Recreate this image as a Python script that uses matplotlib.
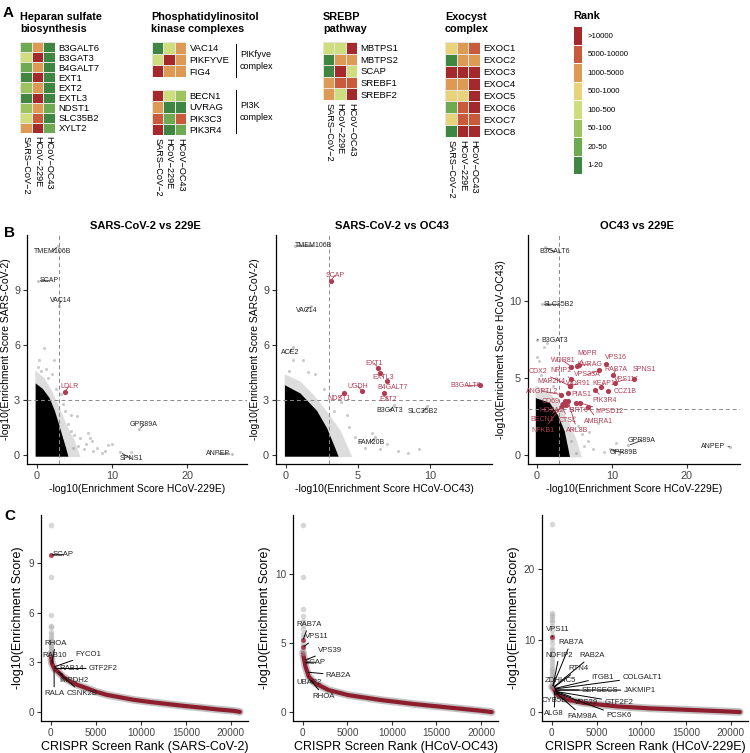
"""Multi-panel CRISPR screen comparison figure (heatmaps, pairwise scatter, rank curves)."""
import matplotlib
import numpy as np

matplotlib.use("Agg")
from matplotlib import pyplot as plt
from matplotlib.colors import BoundaryNorm, ListedColormap
from matplotlib.lines import Line2D

plt.rcParams["font.family"] = ["Liberation Sans", "DejaVu Sans"]

W, H = 750, 753

# ---------------- panel A data (rank bin codes: 0 = 1-20 ... 7 = >10000) ----------------
rank_bins = ["1-20", "20-50", "50-100", "100-500", "500-1000", "1000-5000", "5000-10000", ">10000"]
rank_colors = ["#3f8642", "#6eaa52", "#9dc35f", "#cedd7e", "#e8d37a", "#dc9a55", "#c95b3c", "#a4292c"]
viruses = ["SARS\u2212CoV\u22122", "HCoV\u2212229E", "HCoV\u2212OC43"]

heparan_genes = ["B3GALT6", "B3GAT3", "B4GALT7", "EXT1", "EXT2", "EXTL3", "NDST1", "SLC35B2", "XYLT2"]
heparan_codes = [[1, 5, 0], [3, 7, 0], [1, 5, 0], [0, 7, 0], [2, 5, 0],
                 [0, 7, 0], [2, 5, 1], [3, 6, 0], [5, 7, 1]]
pikfyve_genes = ["VAC14", "PIKFYVE", "FIG4"]
pikfyve_codes = [[0, 3, 5], [3, 7, 5], [7, 5, 5]]
pi3k_genes = ["BECN1", "UVRAG", "PIK3C3", "PIK3R4"]
pi3k_codes = [[7, 3, 2], [5, 0, 0], [6, 1, 6], [7, 0, 1]]
srebp_genes = ["MBTPS1", "MBTPS2", "SCAP", "SREBF1", "SREBF2"]
srebp_codes = [[3, 3, 7], [0, 5, 5], [0, 7, 3], [5, 6, 6], [5, 3, 7]]
exocyst_genes = ["EXOC1", "EXOC2", "EXOC3", "EXOC4", "EXOC5", "EXOC6", "EXOC7", "EXOC8"]
exocyst_codes = [[4, 5, 6], [0, 5, 5], [7, 7, 7], [5, 5, 7], [4, 4, 7],
                 [1, 6, 7], [4, 6, 6], [0, 7, 7]]

# ---------------- panel B data ----------------
# dense cloud of non-hit genes, outlined (core = solid black, halo = grey fringe)
b1_core_x = [-0.15, -0.15, 0.8, 1.7, 2.4, 3.0, 3.5, 3.9, 4.2, -0.15]
b1_core_y = [-0.1, 3.9, 3.6, 3.1, 2.4, 1.6, 0.9, 0.35, -0.1, -0.1]
b1_halo_x = [-0.2, -0.2, 1.0, 2.0, 3.0, 4.0, 5.0, 5.8, -0.2]
b1_halo_y = [-0.12, 4.6, 4.2, 3.5, 2.6, 1.6, 0.8, -0.12, -0.12]
b1_pts_x = [1.0, 0.35, 2.3, 2.0, 1.5, 0.5, 0.1, 3.5, 4.2, 4.5, 5.0, 5.3, 5.5, 6.2, 6.8, 7.0, 7.5, 8.0,
            9.0, 9.5, 10.0, 12.5, 4.8, 3.8, 4.6, 5.8, 6.5, 3.2, 2.6, 1.2, 8.6, 7.3]
b1_pts_y = [5.85, 5.2, 5.15, 4.4, 4.2, 4.6, 4.8, 2.8, 1.7, 2.2, 1.1, 2.1, 0.5, 0.3, 1.2, 0.9, 0.2, 0.4,
            0.2, 0.55, 0.6, 0.15, 0.35, 2.4, 1.3, 0.9, 0.6, 3.3, 3.6, 4.7, 0.1, 0.75]
b1_names = ["TMEM106B", "SCAP", "VAC14", "LDLR", "GPR89A", "SPNS1", "ANPEP"]
b1_x = [2.8, 0.2, 2.9, 3.7, 13.6, 11.1, 25.9]
b1_y = [11.4, 9.5, 8.15, 3.45, 1.4, 0.13, 0.05]
b1_lab_x = [2.1, 1.6, 3.2, 4.3, 14.2, 12.5, 24.1]
b1_lab_y = [11.1, 9.5, 8.4, 3.75, 1.64, -0.2, 0.05]
b1_hit = [False, False, False, True, False, False, False]

b2_core_x = [-0.08, -0.08, 1.0, 2.15, 2.85, 3.4, 3.65, -0.08]
b2_core_y = [-0.1, 3.8, 3.35, 2.4, 1.45, 0.4, -0.1, -0.1]
b2_halo_x = [-0.1, -0.1, 1.0, 2.0, 3.0, 3.8, 4.6, -0.1]
b2_halo_y = [-0.12, 4.4, 4.0, 3.2, 2.2, 1.3, -0.12, -0.12]
b2_pts_x = [0.45, 1.2, 2.0, 3.8, 4.2, 4.8, 5.5, 6.0, 6.5, 7.0, 7.8, 8.5, 9.2, 1.5, 2.6, 3.3, 4.4, 5.1, 0.2]
b2_pts_y = [5.2, 5.2, 4.4, 2.9, 2.2, 1.0, 0.4, 1.2, 0.3, 0.6, 0.2, 0.1, 0.3, 4.5, 3.6, 2.4, 1.5, 0.7, 4.6]
b2_names = ["TMEM106B", "SCAP", "VAC14", "ACE2", "EXT1", "EXTL3", "B4GALT7", "UGDH",
            "NDST1", "EXT2", "B3GALT6", "B3GAT3", "SLC35B2", "FAM20B"]
b2_x = [0.6, 3.1, 1.7, 0.45, 6.4, 6.5, 7.0, 5.3, 4.04, 6.8, 13.5, 7.5, 9.8, 6.2]
b2_y = [11.4, 9.5, 8.15, 5.87, 4.76, 4.44, 4.04, 3.49, 3.4, 3.35, 3.82, 2.7, 2.65, 0.96]
b2_lab_x = [1.9, 3.4, 1.4, 0.25, 6.1, 6.77, 7.4, 4.97, 3.67, 7.1, 12.5, 7.2, 9.5, 5.9]
b2_lab_y = [11.4, 9.8, 7.87, 5.6, 5.0, 4.22, 3.69, 3.73, 3.09, 3.02, 3.76, 2.42, 2.36, 0.69]
b2_hit = [False, True, False, False, True, True, True, True, True, True, True, False, False, False]

b3_core_x = [-0.15, -0.15, 1.7, 2.8, 3.7, 4.15, 4.4, -0.15]
b3_core_y = [-0.12, 3.7, 3.4, 2.6, 1.55, 0.5, -0.12, -0.12]
b3_halo_x = [-0.2, -0.2, 1.5, 3.0, 4.2, 5.2, 6.0, -0.2]
b3_halo_y = [-0.15, 4.5, 4.2, 3.3, 2.2, 1.1, -0.15, -0.15]
b3_pts_x = [0.0, 0.3, 1.0, 1.3, 1.8, 2.5, 5.0, 5.5, 6.0, 6.8, 7.5, 8.2, 9.0, 10.5, 11.0, 4.5, 5.2,
            0.6, 2.2, 3.4, 4.8, 6.3, 7.0]
b3_pts_y = [6.4, 6.1, 7.0, 7.3, 4.8, 5.0, 2.5, 1.9, 1.4, 0.9, 0.4, 2.1, 0.2, 0.8, 0.1, 0.9, 0.15,
            5.2, 4.5, 2.9, 1.7, 0.6, 1.5]
b3_names = ["B3GALT6", "SLC35B2", "B3GAT3", "GPR89A", "GPR89B", "ANPEP",
            "M6PR", "WDR81", "UVRAG", "VPS16", "RAB7A", "SPNS1", "VPS33A", "VPS11",
            "KEAP1", "WDR91", "CCZ1B", "PIK3R4", "CDX2", "NRIP1", "MAP2K4", "ANGPTL2",
            "PIAS1", "CD69", "MFSD12", "SIRT6", "HOXA1", "AMBRA1", "BECN1", "CTSL",
            "NFKB1", "ARL8B"]
b3_x = [1.1, 0.7, 0.05, 12.2, 9.7, 25.7,
        5.4, 4.6, 5.6, 9.2, 10.2, 13.0, 8.26, 10.4,
        8.5, 4.46, 9.5, 7.8, 4.4, 4.5, 4.46, 3.17,
        4.15, 3.48, 5.76, 5.2, 3.7, 6.83, 3.93, 3.35,
        3.5, 4.15]
b3_y = [13.5, 9.8, 7.5, 0.63, 0.37, 0.54,
        5.8, 5.75, 5.85, 5.94, 5.18, 4.97, 5.51, 4.71,
        4.4, 4.51, 4.19, 4.21, 4.5, 4.95, 4.51, 3.93,
        4.04, 3.33, 3.39, 3.39, 3.5, 3.11, 3.28, 3.17,
        3.3, 3.5]
b3_lab_x = [2.4, 2.9, 2.3, 14.0, 11.5, 23.5,
            6.7, 3.48, 7.05, 10.6, 10.5, 14.3, 6.7, 11.7,
            8.9, 5.5, 11.7, 9.06, 0.18, 3.17, 1.9, 0.7,
            5.85, 1.83, 9.7, 5.5, 1.9, 8.2, 0.7, 4.15,
            0.8, 5.36]
b3_lab_y = [13.2, 9.8, 7.45, 0.95, 0.15, 0.54,
            6.59, 6.13, 5.87, 6.37, 5.55, 5.53, 5.23, 4.9,
            4.62, 4.62, 4.15, 3.54, 5.44, 5.49, 4.8, 4.15,
            3.95, 3.5, 2.8, 2.9, 2.9, 2.2, 2.31, 2.27,
            1.6, 1.6]
b3_hit = [False] * 6 + [True] * 26

# ---------------- panel C data ----------------
c1_top_rank = [1, 2, 3, 4, 5, 6, 7, 8, 9, 10, 11, 12, 13, 14, 15, 16, 17, 18, 19]
c1_top_score = [11.3, 9.5, 8.15, 5.85, 5.2, 5.15, 4.85, 4.7, 4.5, 4.4, 4.3, 4.2, 4.1, 4.0, 3.9, 3.8, 3.7, 3.6, 3.5]
c1_curve_rank = [20, 100, 400, 820, 1400, 2120, 3000, 3990, 5000, 6220, 7500, 9200, 11000,
                 12900, 14500, 16650, 18500, 20370, 21000]
c1_curve_score = [3.5, 2.95, 2.6, 2.4, 2.1, 1.84, 1.62, 1.43, 1.22, 1.03, 0.9, 0.73, 0.6,
                  0.48, 0.38, 0.26, 0.15, 0.06, 0.0]
c1_names = ["SCAP", "RHOA", "RAB10", "FYCO1", "RAB14", "GTF2F2", "IMPDH2", "RALA", "CSNK2B"]
c1_rank = [2, 100, 150, 250, 300, 350, 700, 350, 900]
c1_score = [9.5, 2.95, 2.85, 2.7, 2.65, 2.62, 2.45, 2.6, 2.35]
c1_lab_rank = [1400, 525, 370, 4170, 2310, 5840, 2570, 370, 3430]
c1_lab_score = [9.5, 4.16, 3.41, 3.45, 2.63, 2.63, 1.88, 1.13, 1.13]
c1_hit = [True] + [False] * 8

c2_top_rank = [1, 2, 3, 4, 5, 6, 7, 8, 9, 10, 11, 12, 13, 14, 15]
c2_top_score = [13.6, 9.8, 7.5, 7.0, 6.6, 6.3, 6.0, 5.7, 5.45, 5.2, 5.0, 4.8, 4.7, 4.5, 4.3]
c2_curve_rank = [15, 100, 300, 670, 1400, 2900, 5100, 8800, 12500, 16200, 19900, 21200]
c2_curve_score = [4.3, 4.0, 3.3, 2.56, 2.08, 1.59, 1.23, 0.87, 0.58, 0.34, 0.1, 0.0]
c2_names = ["RAB7A", "VPS11", "VPS39", "SCAP", "RAB2A", "UBAP2", "RHOA"]
c2_rank = [10, 13, 150, 170, 450, 600, 800]
c2_score = [5.2, 4.7, 3.75, 3.6, 2.9, 2.6, 2.4]
c2_lab_rank = [670, 1590, 3070, 1400, 4000, 670, 2330]
c2_lab_score = [6.35, 5.46, 4.47, 3.62, 2.68, 2.13, 1.16]
c2_hit = [True, True, False, False, False, False, False]

c3_top_rank = list(range(1, 30))
c3_top_score = [26.2, 13.8, 13.5, 13.3, 12.9, 12.6, 12.0, 11.5, 10.8, 10.5, 10.2, 9.6, 9.0, 8.6, 8.2,
                7.8, 7.4, 7.0, 6.6, 6.2, 5.9, 5.6, 5.3, 5.0, 4.7, 4.4, 4.1, 3.8, 3.5]
c3_curve_rank = [30, 150, 630, 1740, 3590, 7300, 11000, 14700, 18400, 21000]
c3_curve_score = [3.5, 3.35, 2.4, 1.72, 1.26, 0.79, 0.51, 0.33, 0.14, 0.0]
c3_names = ["VPS11", "RAB7A", "NDFIP2", "RAB2A", "RTN4", "ZDHHC5", "ITGB1", "COLGALT1",
            "SEPSECS", "JAKMIP1", "CYB5B", "VPS29", "GTF2F2", "ALG8", "FAM98A", "PCSK6"]
c3_rank = [10, 60, 100, 120, 150, 170, 200, 220, 240, 260, 280, 300, 320, 350, 380, 400]
c3_score = [10.5, 3.5, 3.45, 3.4, 3.35, 3.3, 3.25, 3.2, 3.1, 3.05, 3.0, 2.95, 2.9, 2.85, 2.8, 2.75]
c3_lab_rank = [700, 2100, 810, 4440, 3030, 1000, 5630, 10070, 5370, 9810, 260, 3780, 7480, 260, 3410, 7480]
c3_lab_score = [11.5, 9.67, 7.95, 7.85, 6.09, 4.46, 4.84, 4.84, 3.07, 3.07, 1.58, 1.4, 1.4, -0.18, -0.56, -0.51]
c3_hit = [True] + [False] * 15

HIT_RED = "#b13c52"
GREY_PT = "#8c8c8c"

fig = plt.figure(figsize=(W / 100, H / 100), dpi=100)


def px_axes(left, top, right, bottom):
    return fig.add_axes([left / W, 1 - bottom / H, (right - left) / W, (bottom - top) / H])


def ftext(x, y, s, **kw):
    fig.text(x / W, 1 - y / H, s, **kw)


rank_cmap = ListedColormap(rank_colors)
rank_norm = BoundaryNorm(np.arange(-0.5, 8.5), 8)


def draw_heatmap(box, genes, codes, show_cols):
    ax = px_axes(*box)
    ax.pcolormesh(np.array(codes), cmap=rank_cmap, norm=rank_norm,
                  edgecolors="#e8e4dc", linewidth=0.7)
    ax.set_xlim(0, 3)
    ax.set_ylim(len(genes), 0)
    ax.yaxis.tick_right()
    ax.set_yticks(np.arange(len(genes)) + 0.5, genes)
    if show_cols:
        ax.set_xticks(np.arange(3) + 0.5, viruses, rotation=270, va="top", ha="center")
    else:
        ax.set_xticks([])
    ax.tick_params(length=0, pad=2.5, labelsize=6.8)
    ax.tick_params(axis="x", labelsize=6.6, pad=2)
    for s in ax.spines.values():
        s.set_visible(False)


# ---------------- panel A ----------------
ftext(3, 13, "A", fontsize=11, fontweight="bold", va="center")
title_kw = dict(fontsize=7.8, fontweight="bold", va="center", linespacing=1.3)
ftext(20, 23, "Heparan sulfate\nbiosynthesis", **title_kw)
ftext(151, 23, "Phosphatidylinositol\nkinase complexes", **title_kw)
ftext(323, 23, "SREBP\npathway", **title_kw)
ftext(445, 23, "Exocyst\ncomplex", **title_kw)

draw_heatmap((20, 42, 55, 133), heparan_genes, heparan_codes, True)
draw_heatmap((152, 42, 186, 77), pikfyve_genes, pikfyve_codes, False)
draw_heatmap((152, 90, 186, 135), pi3k_genes, pi3k_codes, True)
draw_heatmap((323, 42, 357, 100), srebp_genes, srebp_codes, True)
draw_heatmap((445, 42, 480, 137), exocyst_genes, exocyst_codes, True)

for y0, y1, label in [(44, 77, "PIKfyve\ncomplex"), (90, 133, "PI3K\ncomplex")]:
    fig.add_artist(Line2D([236 / W, 236 / W], [1 - y0 / H, 1 - y1 / H], color="black", lw=0.7))
    ftext(240, (y0 + y1) / 2, label, fontsize=6.5, va="center", linespacing=1.5)

ftext(573, 16, "Rank", fontsize=7.8, fontweight="bold", va="center")
leg = px_axes(573, 26, 582, 174)
leg.pcolormesh(np.arange(8)[::-1].reshape(-1, 1), cmap=rank_cmap, norm=rank_norm,
               edgecolors="white", linewidth=0.6)
leg.set_xlim(0, 1)
leg.set_ylim(8, 0)
leg.yaxis.tick_right()
leg.set_yticks(np.arange(8) + 0.5, rank_bins[::-1])
leg.set_xticks([])
leg.tick_params(length=0, pad=4, labelsize=5.6)
for s in leg.spines.values():
    s.set_visible(False)


# ---------------- panel B ----------------
def style_axes(ax, label_size, tick_size):
    for side in ("top", "right"):
        ax.spines[side].set_visible(False)
    for side in ("left", "bottom"):
        ax.spines[side].set_linewidth(0.9)
    ax.tick_params(length=3, width=0.8, labelsize=tick_size, color="#333333", labelcolor="#444444", pad=2)
    ax.xaxis.label.set_size(label_size)
    ax.yaxis.label.set_size(label_size)


def scatter_panel(box, xlim, ylim, xticks, yticks, title, title_x, xlabel, ylabel,
                  core, halo, pts, names, px, py, lx, ly, hits):
    ax = px_axes(*box)
    ax.fill(halo[0], halo[1], color="#a0a0a0", alpha=0.35, lw=0, zorder=1)
    ax.fill(core[0], core[1], color="black", lw=0, zorder=2)
    ax.scatter(pts[0], pts[1], s=5, color=GREY_PT, alpha=0.45, lw=0, zorder=2)
    ax.axvline(3, color="#8a8a8a", lw=0.7, ls=(0, (4, 3)), zorder=3)
    ax.axhline(3, color="#8a8a8a", lw=0.7, ls=(0, (4, 3)), zorder=3)
    for name, x, y, tx, ty, hit in zip(names, px, py, lx, ly, hits):
        color = HIT_RED if hit else "#222222"
        ax.scatter([x], [y], s=14 if hit else 5, color=HIT_RED if hit else GREY_PT,
                   alpha=1 if hit else 0.5, lw=0, zorder=4)
        ax.annotate(name, xy=(x, y), xytext=(tx, ty), fontsize=5, color=color,
                    ha="center", va="center", zorder=5,
                    arrowprops=dict(arrowstyle="-", color=color, lw=0.6, shrinkA=0, shrinkB=1.5))
    ax.set_xlim(*xlim)
    ax.set_ylim(*ylim)
    ax.set_xticks(xticks)
    ax.set_yticks(yticks)
    ax.set_xlabel(xlabel, labelpad=2)
    ax.set_ylabel(ylabel, labelpad=2)
    ax.set_title(title, fontsize=8, fontweight="bold", pad=4, x=title_x)
    style_axes(ax, 7.5, 7.8)
    return ax


ftext(4, 233, "B", fontsize=11, fontweight="bold", va="center")
scatter_panel((27, 235, 247, 464), (-1.3, 27.9), (-0.5, 12.0), [0, 10, 20], [0, 3, 6, 9],
              "SARS-CoV-2 vs 229E", 0.54, "-log10(Enrichment Score HCoV-229E)",
              "-log10(Enrichment Score SARS-CoV-2)",
              (b1_core_x, b1_core_y), (b1_halo_x, b1_halo_y), (b1_pts_x, b1_pts_y),
              b1_names, b1_x, b1_y, b1_lab_x, b1_lab_y, b1_hit)
scatter_panel((276, 235, 492, 464), (-0.7, 14.3), (-0.5, 12.0), [0, 5, 10], [0, 3, 6, 9],
              "SARS-CoV-2 vs OC43", 0.535, "-log10(Enrichment Score HCoV-OC43)",
              "-log10(Enrichment Score SARS-CoV-2)",
              (b2_core_x, b2_core_y), (b2_halo_x, b2_halo_y), (b2_pts_x, b2_pts_y),
              b2_names, b2_x, b2_y, b2_lab_x, b2_lab_y, b2_hit)
scatter_panel((528, 235, 740, 464), (-1.2, 27.1), (-0.58, 14.3), [0, 10, 20], [0, 5, 10],
              "OC43 vs 229E", 0.515, "-log10(Enrichment Score HCoV-229E)",
              "-log10(Enrichment Score HCoV-OC43)",
              (b3_core_x, b3_core_y), (b3_halo_x, b3_halo_y), (b3_pts_x, b3_pts_y),
              b3_names, b3_x, b3_y, b3_lab_x, b3_lab_y, b3_hit)


# ---------------- panel C ----------------
def rank_panel(box, ylim, yticks, xlabel, top, curve, names, px, py, lx, ly, hits):
    ax = px_axes(*box)
    ax.plot(curve[0], curve[1], color="#b4b4b4", lw=5.5, alpha=0.8, solid_capstyle="round", zorder=1)
    ax.plot(curve[0], curve[1], color="#8e1d2e", lw=3.0, solid_capstyle="round", zorder=2)
    ax.scatter(top[0], top[1], s=16, color="#a8a8a8", alpha=0.45, lw=0, zorder=2)
    for name, x, y, tx, ty, hit in zip(names, px, py, lx, ly, hits):
        if hit:
            ax.scatter([x], [y], s=12, color=HIT_RED, lw=0, zorder=4)
        ax.annotate(name, xy=(x, y), xytext=(tx, ty), fontsize=5.6, color="#222222",
                    ha="center", va="center", zorder=5,
                    arrowprops=dict(arrowstyle="-", color="black", lw=0.7, shrinkA=0, shrinkB=1))
    ax.set_xlim(-1100, 21900)
    ax.set_ylim(*ylim)
    ax.set_xticks([0, 5000, 10000, 15000, 20000])
    ax.set_yticks(yticks)
    ax.set_xlabel(xlabel, labelpad=2)
    ax.set_ylabel("-log10(Enrichment Score)", labelpad=3)
    style_axes(ax, 9, 7.2)
    return ax


ftext(4, 516, "C", fontsize=11, fontweight="bold", va="center")
rank_panel((41, 515, 248, 721), (-0.55, 11.9), [0, 3, 6, 9], "CRISPR Screen Rank (SARS-CoV-2)",
           (c1_top_rank, c1_top_score), (c1_curve_rank, c1_curve_score),
           c1_names, c1_rank, c1_score, c1_lab_rank, c1_lab_score, c1_hit)
rank_panel((293, 515, 498, 721), (-0.65, 14.3), [0, 5, 10], "CRISPR Screen Rank (HCoV-OC43)",
           (c2_top_rank, c2_top_score), (c2_curve_rank, c2_curve_score),
           c2_names, c2_rank, c2_score, c2_lab_rank, c2_lab_score, c2_hit)
rank_panel((542, 515, 748, 721), (-1.25, 27.5), [0, 10, 20], "CRISPR Screen Rank (HCoV-229E)",
           (c3_top_rank, c3_top_score), (c3_curve_rank, c3_curve_score),
           c3_names, c3_rank, c3_score, c3_lab_rank, c3_lab_score, c3_hit)

fig.savefig("out.png", dpi=100)
plt.close(fig)
